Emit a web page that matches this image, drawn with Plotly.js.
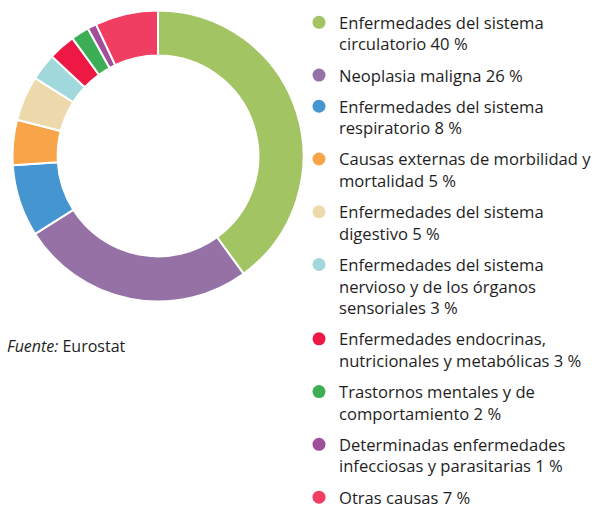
<!DOCTYPE html>
<html>
<head>
<meta charset="utf-8">
<script src="https://cdn.plot.ly/plotly-3.0.1.min.js"></script>
<style>html,body{margin:0;padding:0;background:#fff;}#chart{width:597px;height:508px;}</style>
</head>
<body>
<div id="chart"></div>
<script>
const labels = [
  "Enfermedades del sistema<br>circulatorio 40 %",
  "Neoplasia maligna 26 %",
  "Enfermedades del sistema<br>respiratorio 8 %",
  "Causas externas de morbilidad y<br>mortalidad 5 %",
  "Enfermedades del sistema<br>digestivo 5 %",
  "Enfermedades del sistema<br>nervioso y de los órganos<br>sensoriales 3 %",
  "Enfermedades endocrinas,<br>nutricionales y metabólicas 3 %",
  "Trastornos mentales y de<br>comportamiento 2 %",
  "Determinadas enfermedades<br>infecciosas y parasitarias 1 %",
  "Otras causas 7 %"
];
const values = [40, 26, 8, 5, 5, 3, 3, 2, 1, 7];
const colors = ["#a3c463", "#9671a6", "#4595d1", "#f8a54a", "#edd9ac",
                "#a0d8db", "#ee1845", "#3dae56", "#a0509b", "#ef3e61"];
const source = "<i>Fuente:</i> Eurostat";

const W = 597, H = 508;
const cx = 158, cy = 156, r = 145.5;

const pie = {
  type: "pie",
  values: values,
  labels: labels,
  marker: {colors: colors, line: {color: "#ffffff", width: 2}},
  hole: 0.69,
  sort: false,
  direction: "clockwise",
  rotation: 0,
  textinfo: "none",
  hoverinfo: "label+value",
  showlegend: false,
  domain: {x: [(cx - r) / W, (cx + r) / W], y: [1 - (cy + r) / H, 1 - (cy - r) / H]}
};

const legendTraces = labels.map((lab, i) => ({
  type: "scatter",
  mode: "markers",
  x: [null], y: [null],
  name: lab,
  legendgroup: "g" + i,
  marker: {color: colors[i], size: 13, symbol: "circle"},
  showlegend: true,
  hoverinfo: "skip"
}));

const layout = {
  width: W, height: H,
  margin: {l: 0, r: 0, t: 0, b: 0, autoexpand: false},
  paper_bgcolor: "#ffffff",
  plot_bgcolor: "#ffffff",
  font: {family: "Open Sans, sans-serif", size: 16.6, color: "#1e1e1e"},
  xaxis: {visible: false, domain: [0.99, 1]},
  yaxis: {visible: false, domain: [0.99, 1]},
  showlegend: true,
  legend: {
    x: 299 / W, xanchor: "left",
    y: 1 - 5 / H, yanchor: "top",
    valign: "top",
    traceorder: "grouped",
    tracegroupgap: 6.6,
    bgcolor: "rgba(0,0,0,0)",
    font: {family: "Open Sans, sans-serif", size: 16.6, color: "#1e1e1e"}
  },
  annotations: [{
    text: source,
    xref: "paper", yref: "paper",
    x: 5 / W, y: 1 - 346 / H,
    xanchor: "left", yanchor: "middle",
    showarrow: false,
    font: {family: "Open Sans, sans-serif", size: 16, color: "#1e1e1e"}
  }]
};

Plotly.newPlot("chart", [pie].concat(legendTraces), layout, {displayModeBar: false, staticPlot: true});
</script>
</body>
</html>
